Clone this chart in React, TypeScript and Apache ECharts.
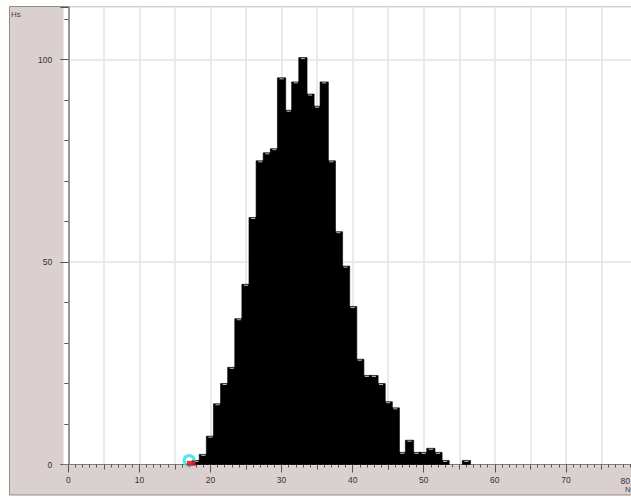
import React, { useEffect, useRef } from "react";
import * as echarts from "echarts";

const binCenters = [18, 19, 20, 21, 22, 23, 24, 25, 26, 27, 28, 29, 30, 31, 32, 33, 34, 35, 36, 37, 38, 39, 40, 41, 42, 43, 44, 45, 46, 47, 48, 49, 50, 51, 52, 53, 54, 55, 56];
const counts = [1, 2.5, 7, 15, 20, 24, 36, 44.5, 61, 75, 77, 78, 95.5, 87.5, 94.5, 100.5, 91.5, 88.5, 94.5, 75, 57.5, 49, 39, 26, 22, 22, 20, 15.5, 14, 3, 6, 3, 3, 4, 3, 1, 0, 0, 1];
const cursorPoint = [17, 1.0];
const redMarkPoint = [17.3, 0.3];
const xName = "N";
const yName = "Hs";
const lastXLabel = "80";

export default function App() {
  const ref = useRef<HTMLDivElement>(null);
  useEffect(() => {
    if (!ref.current) return;
    const chart = echarts.init(ref.current, null, { renderer: "svg" });
    const font = "Liberation Sans";
    const axisColor = "#7d7d72";
    const tickColor = "#55554d";
    const gridColor = "#e3e3e3";
    const data = binCenters.map((x, i) => [x, counts[i]]).filter((d) => d[1] > 0);
    chart.setOption({
      animation: false,
      graphic: [
        {
          type: "rect",
          z: -100,
          shape: { x: 9.5, y: 6.5, width: 640, height: 488.5 },
          style: { fill: "#dbd0d0", stroke: "#8f8f86", lineWidth: 1 },
        },
        {
          type: "rect",
          z: -90,
          shape: { x: 63.5, y: 7, width: 580, height: 457 },
          style: { fill: "#ffffff" },
        },
        {
          type: "line",
          z: 5,
          shape: { x1: 63, y1: 464.5, x2: 68.5, y2: 464.5 },
          style: { stroke: axisColor, lineWidth: 1 },
        },
        {
          type: "text",
          z: 5,
          x: 11,
          y: 10,
          style: { text: yName, fill: "#444", font: `8px ${font}` },
        },
        {
          type: "text",
          z: 5,
          x: 625,
          y: 485,
          style: { text: xName, fill: "#444", font: `8px ${font}` },
        },
        {
          type: "text",
          z: 5,
          x: 630,
          y: 476,
          style: { text: lastXLabel, fill: "#333", font: `8.5px ${font}`, textAlign: "right" },
        },
      ],
      grid: { left: 68.3, right: 2, top: 7, bottom: 32.5, containLabel: false },
      xAxis: [
        {
          type: "value",
          min: 0,
          max: 80,
          interval: 5,
          axisLine: { show: true, lineStyle: { color: axisColor, width: 1 } },
          axisTick: { show: true, length: 5, lineStyle: { color: tickColor } },
          minorTick: { show: true, splitNumber: 5, length: 3, lineStyle: { color: tickColor } },
          splitLine: { show: true, lineStyle: { color: gridColor, width: 1.5 } },
          minorSplitLine: { show: false },
          axisLabel: {
            formatter: (v: number) => (v % 10 === 0 && v < 80 ? String(v) : ""),
            margin: 11,
            fontSize: 8.5,
            fontFamily: font,
            color: "#333",
          },
        },
        {
          type: "value",
          min: 0,
          max: 80,
          interval: 10,
          position: "bottom",
          axisLine: { show: false },
          axisTick: { show: true, length: 8, lineStyle: { color: tickColor } },
          splitLine: { show: false },
          axisLabel: { show: false },
        },
      ],
      yAxis: [
        {
          type: "value",
          min: 0,
          max: 113,
          interval: 10,
          offset: 5,
          axisLine: { show: true, lineStyle: { color: axisColor, width: 1.5 } },
          axisTick: { show: true, length: 4, lineStyle: { color: tickColor } },
          splitLine: { show: false },
          axisLabel: {
            formatter: (v: number) => (v % 50 === 0 ? String(v) : ""),
            margin: 11,
            fontSize: 8.5,
            fontFamily: font,
            color: "#333",
          },
        },
        {
          type: "value",
          min: 0,
          max: 113,
          interval: 50,
          offset: 5,
          position: "left",
          axisLine: { show: false },
          axisTick: { show: true, length: 8, lineStyle: { color: tickColor } },
          splitLine: { show: true, lineStyle: { color: gridColor, width: 1.5 } },
          axisLabel: { show: false },
        },
      ],
      series: [
        {
          type: "custom",
          xAxisIndex: 0,
          yAxisIndex: 0,
          encode: { x: 0, y: 1 },
          data,
          renderItem: (params: any, api: any) => {
            const x = api.value(0);
            const y = api.value(1);
            const p0 = api.coord([x - 0.5, y]);
            const p1 = api.coord([x + 0.5, 0]);
            const w = p1[0] - p0[0];
            const h = p1[1] - p0[1];
            return {
              type: "group",
              children: [
                {
                  type: "rect",
                  shape: { x: p0[0] - 0.6, y: p0[1], width: w + 1.2, height: h },
                  style: { fill: "#000000", stroke: "#000000", lineWidth: 0.6 },
                },
                {
                  type: "line",
                  z2: 2,
                  shape: { x1: p0[0] + 1.5, y1: p0[1] + 1, x2: p0[0] + w - 1.5, y2: p0[1] + 1 },
                  style: { stroke: "#b8b8b8", lineWidth: 1 },
                },
              ],
            };
          },
        },
        {
          type: "scatter",
          xAxisIndex: 0,
          yAxisIndex: 0,
          data: [cursorPoint],
          symbol: "circle",
          symbolSize: 10,
          itemStyle: { color: "rgba(0,0,0,0)", borderColor: "#1fe3ea", borderWidth: 3 },
          z: 3,
        },
        {
          type: "scatter",
          xAxisIndex: 0,
          yAxisIndex: 0,
          data: [redMarkPoint],
          symbol: "rect",
          symbolSize: [9, 5],
          itemStyle: { color: "#e80000" },
          z: 4,
        },
      ],
    });
    return () => chart.dispose();
  }, []);
  return (
    <div
      style={{
        position: "fixed",
        left: 0,
        top: 0,
        width: 631,
        height: 497,
        overflow: "hidden",
        background: "#ffffff",
      }}
    >
      <div ref={ref} style={{ width: 640, height: 497 }} />
    </div>
  );
}
